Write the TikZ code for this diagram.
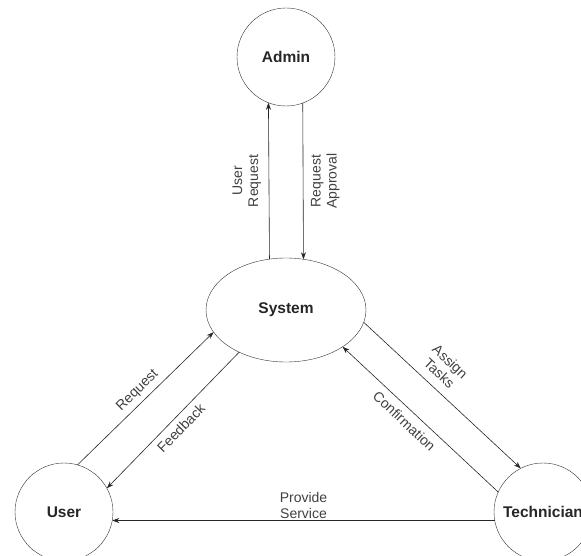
\documentclass[tikz,border=0pt]{standalone}
\usepackage{fontspec}
\setmainfont{Liberation Sans}
\usepackage{tikz}
\usetikzlibrary{shapes,arrows.meta,positioning}

\begin{document}
\begin{tikzpicture}[
  x=1pt, y=-1pt,
  entity/.style={circle, draw=black!80, inner sep=0pt, outer sep=0pt, minimum size=98pt, font=\fontsize{15.5}{18}\selectfont\bfseries, text=black!85},
  process/.style={ellipse, draw=black!80, inner sep=0pt, outer sep=0pt, minimum width=160pt, minimum height=104pt, font=\fontsize{15.5}{18}\selectfont\bfseries, text=black!85},
  arrow/.style={-{Stealth[length=7pt,width=5pt]}, draw=black!85, line width=0.6pt},
  flowtext/.style={font=\fontsize{14}{16}\selectfont, text=black!75, align=center, inner sep=2pt}
]
\useasboundingbox (0,0) rectangle (581,556);
\node[entity] (adm) at (286,57) {Admin};
\node[process] (sys) at (286,310) {System};
\node[entity] (usr) at (64,512) {User};
\node[entity] (tech) at (543,512) {Technician};
\draw[arrow] (sys.108.5) -- (adm.249.7) node[flowtext, midway, rotate=90, above, outer sep=6pt] {User\\Request};
\draw[arrow] (adm.290.3) -- (sys.71.5) node[flowtext, midway, rotate=90, below, outer sep=6pt] {Request\\Approval};
\draw[arrow] (usr.74) -- (sys.197) node[flowtext, midway, sloped, above, outer sep=3pt] {Request};
\draw[arrow] (sys.222.6) -- (usr.29) node[flowtext, midway, sloped, below, outer sep=4pt] {Feedback};
\draw[arrow] (sys.351) -- (tech.117) node[flowtext, pos=0.42, sloped, above, outer sep=7pt] {Assign\\Tasks};
\draw[arrow] (tech.156.5) -- (sys.327) node[flowtext, pos=0.55, sloped, below, outer sep=5pt] {Confirmation};
\draw[arrow] (tech.190) -- (usr.350) node[flowtext, midway, above] {Provide\\Service};
\end{tikzpicture}
\end{document}
